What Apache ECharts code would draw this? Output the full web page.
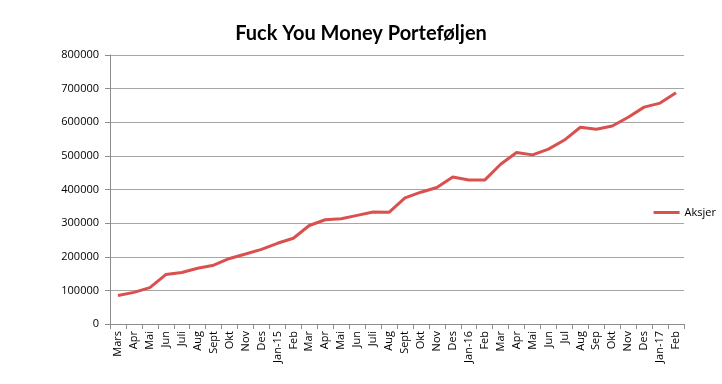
<!DOCTYPE html>
<html><head><meta charset="utf-8">
<script src="https://cdn.jsdelivr.net/npm/echarts@6/dist/echarts.min.js"></script>
<style>html,body{margin:0;padding:0;background:#fff}#c{width:722px;height:384px}</style>
</head><body><div id="c"></div>
<script>
const categories = ["Mars","Apr","Mai","Jun","Juli","Aug","Sept","Okt","Nov","Des","Jan-15","Feb","Mar","Apr","Mai","Jun","Juli","Aug","Sept","Okt","Nov","Des","Jan-16","Feb","Mar","Apr","Mai","Jun","Jul","Aug","Sep","Okt","Nov","Des","Jan-17","Feb"];
const aksjer = [85000,94000,108000,147000,153000,166000,175000,195000,208000,222000,240000,255000,293000,310000,313000,323000,333000,332000,375000,392000,406000,437000,428000,428000,475000,510000,503000,520000,547000,585000,579000,589000,615000,645000,657000,688000];
const seriesName = "Aksjer";
const titleText = "Fuck You Money Porteføljen";

const chart = echarts.init(document.getElementById('c'));
chart.setOption({
  animation: false,
  backgroundColor: '#fff',
  title: { text: titleText, left: 'center', top: 19,
    textStyle: { fontFamily: 'Lato', fontWeight: 'bold', fontSize: 20, color: '#000' } },
  legend: { orient: 'vertical', right: 4, top: 205, itemWidth: 26, itemHeight: 3, itemGap: 4,
    backgroundColor: '#fff', padding: [2, 2, 2, 4],
    textStyle: { fontFamily: 'Open Sans', fontSize: 11, color: '#000' },
    data: [{ name: seriesName, icon: 'rect' }] },
  grid: { left: 110, right: 38, top: 55, bottom: 60 },
  xAxis: {
    type: 'category', data: categories, boundaryGap: true,
    axisLine: { lineStyle: { color: '#8c8c8c', width: 1 } },
    axisTick: { show: true, interval: 0, length: 5, lineStyle: { color: '#8c8c8c' } },
    axisLabel: { interval: 0, rotate: 90, fontFamily: 'Open Sans', fontSize: 11, color: '#000', margin: 7 }
  },
  yAxis: {
    type: 'value', min: 0, max: 800000, interval: 100000,
    axisLine: { show: true, lineStyle: { color: '#8c8c8c', width: 1 } },
    axisTick: { show: true, length: 5, lineStyle: { color: '#8c8c8c' } },
    axisLabel: { fontFamily: 'Open Sans', fontSize: 11, color: '#000', margin: 11,
      formatter: v => String(v) },
    splitLine: { lineStyle: { color: '#a6a6a6', width: 1 } }
  },
  series: [{
    name: seriesName, type: 'line', data: aksjer, symbol: 'none',
    lineStyle: { color: '#d9504f', width: 3 }, itemStyle: { color: '#d9504f' }
  }]
});
</script></body></html>
